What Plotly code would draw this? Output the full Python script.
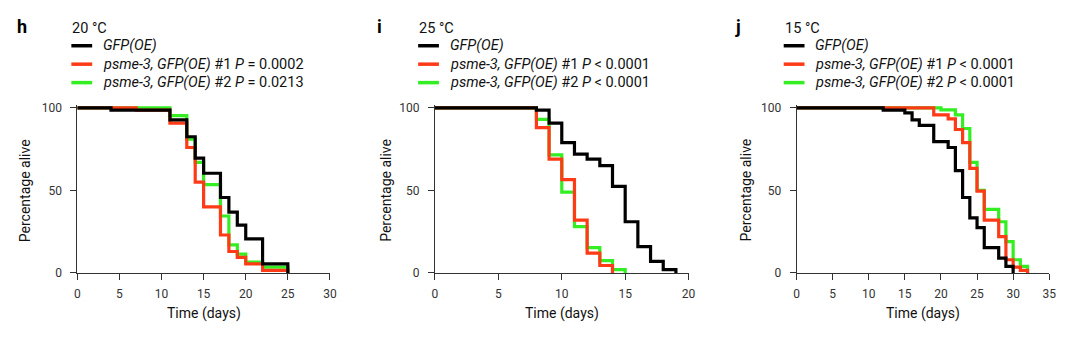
import plotly.graph_objects as go

# ---------------- data ----------------
# Panel h (20 °C)
h_black_days = [0, 4, 11, 13, 14, 15, 17, 18, 19, 20, 22, 25]
h_black_pct = [100, 98.6, 92.7, 82.5, 69.6, 60.4, 45.7, 36.9, 29, 20.6, 5.5, 0]
h_red_days = [0, 7, 11, 13, 14, 15, 17, 18, 19, 20, 22, 25]
h_red_pct = [100, 98.6, 90.8, 76, 55, 40, 23, 13, 9.4, 5.5, 1.5, 0]
h_green_days = [0, 11, 13, 14, 15, 17, 18, 19, 20, 22, 25]
h_green_pct = [100, 95.3, 81, 67, 53.5, 34.5, 17, 11.4, 6.5, 3.5, 0]

# Panel i (25 °C)
i_black_days = [0, 8, 9, 10, 11, 12, 13, 14, 15, 16, 17, 18, 19]
i_black_pct = [100, 98.6, 90.8, 79, 72, 69, 65, 52.5, 31, 16, 7, 2, 0]
i_red_days = [0, 8, 9, 10, 11, 12, 13, 14]
i_red_pct = [100, 88, 69, 56.5, 32, 12, 4.5, 0]
i_green_days = [0, 8, 9, 10, 11, 12, 13, 14, 15]
i_green_pct = [100, 93, 71.5, 49, 28, 15.3, 7.5, 2, 0]

# Panel j (15 °C)
j_black_days = [0, 12, 15, 16, 17, 19, 21, 22, 23, 24, 25, 26, 28, 29, 30]
j_black_pct = [100, 98.6, 97, 92.7, 89.4, 79.6, 76, 62, 45.7, 33.3, 27.5, 15.3, 9, 4, 0]
j_red_days = [0, 19, 21, 22, 23, 24, 25, 26, 28, 29, 30, 31, 32]
j_red_pct = [100, 95.7, 93.3, 86.9, 79, 63.3, 49.6, 32, 22, 8, 3.5, 1.5, 0]
j_green_days = [0, 20, 22, 23, 24, 25, 26, 28, 29, 30, 31, 32]
j_green_pct = [100, 98.8, 95.7, 87.5, 67, 50, 38.5, 31, 19, 8, 4, 0]

panel_letters = ["h", "i", "j"]
panel_temps = ["20 °C", "25 °C", "15 °C"]
series_names = ["GFP(OE)", "psme-3, GFP(OE) #1", "psme-3, GFP(OE) #2"]
p_values = [["P = 0.0002", "P = 0.0213"],
            ["P < 0.0001", "P < 0.0001"],
            ["P < 0.0001", "P < 0.0001"]]
x_ticks = [[0, 5, 10, 15, 20, 25, 30], [0, 5, 10, 15, 20], [0, 5, 10, 15, 20, 25, 30, 35]]
x_max = [30, 20, 35]
y_ticks = [0, 50, 100]

# ---------------- styling ----------------
W, H = 1080, 345
BLACK = "#000000"
RED = "#ff3a16"
GREEN = "#33ee22"
FONT = "Roboto"
AX = "#333333"
LW = 3.2

panels = [
    dict(black=(h_black_days, h_black_pct), red=(h_red_days, h_red_pct), green=(h_green_days, h_green_pct)),
    dict(black=(i_black_days, i_black_pct), red=(i_red_days, i_red_pct), green=(i_green_days, i_green_pct)),
    dict(black=(j_black_days, j_black_pct), red=(j_red_days, j_red_pct), green=(j_green_days, j_green_pct)),
]

# pixel geometry of each plot (left, right) and layout elements
x_px = [(75, 330), (436, 692), (801, 1056)]
letter_px = [12, 375, 737]
legend_px = [68, 418, 787]
ytitle_px = [23, 387, 750]
y0_px, ppu = 278, 1.7  # y pixel of 0, pixels per percent
y_top_val = 102


def px(x):
    return x / W


def py(y):
    return 1 - y / H


fig = go.Figure()
annotations = []
shapes = []

for k, pdat in enumerate(panels):
    xa = "x" if k == 0 else f"x{k+1}"
    ya = "y" if k == 0 else f"y{k+1}"
    for key, col in (("green", GREEN), ("red", RED), ("black", BLACK)):
        d, v = pdat[key]
        fig.add_trace(go.Scatter(x=d, y=v, mode="lines", line=dict(color=col, width=LW, shape="hv"),
                                 xaxis=xa, yaxis=ya, showlegend=False, hoverinfo="skip"))
    l, r = x_px[k]
    axkw = dict(showgrid=False, zeroline=False, showline=True, linecolor=AX, linewidth=1,
                ticks="outside", ticklen=6, tickwidth=1, tickcolor=AX,
                tickfont=dict(family=FONT, size=12, color="#333333"))
    fig.update_layout(**{
        ("xaxis" if k == 0 else f"xaxis{k+1}"): dict(
            domain=[px(l), px(r)], range=[0, x_max[k]], tickvals=x_ticks[k],
            anchor=ya, ticklabelstandoff=4, **axkw),
        ("yaxis" if k == 0 else f"yaxis{k+1}"): dict(
            domain=[py(y0_px), py(y0_px - y_top_val * ppu)], range=[0, y_top_val],
            tickvals=y_ticks, anchor=xa, ticklabelstandoff=6, **axkw),
    })
    # panel letter
    annotations.append(dict(x=px(letter_px[k]), y=py(24), xref="paper", yref="paper", xanchor="left",
                            yanchor="middle", showarrow=False, text=f"<b>{panel_letters[k]}</b>",
                            font=dict(family=FONT, size=18, color="#000")))
    lx = legend_px[k]
    annotations.append(dict(x=px(lx), y=py(26), xref="paper", yref="paper", xanchor="left",
                            yanchor="middle", showarrow=False, text=panel_temps[k],
                            font=dict(family=FONT, size=14.5, color="#111")))
    rows = [(44, BLACK, f"<i>{series_names[0]}</i>"),
            (63, RED, f"<i>psme-3, GFP(OE)</i> #1 <i>P</i> {p_values[k][0][2:]}"),
            (82, GREEN, f"<i>psme-3, GFP(OE)</i> #2 <i>P</i> {p_values[k][1][2:]}")]
    for yy, col, txt in rows:
        shapes.append(dict(type="line", xref="paper", yref="paper", x0=px(lx + 1), x1=px(lx + 22),
                           y0=py(yy), y1=py(yy), line=dict(color=col, width=3.5)))
        annotations.append(dict(x=px(lx + 31), y=py(yy), xref="paper", yref="paper", xanchor="left",
                                yanchor="middle", showarrow=False, text=txt,
                                font=dict(family=FONT, size=14.5, color="#111")))
    # axis titles
    annotations.append(dict(x=px(ytitle_px[k]), y=py(193), xref="paper", yref="paper", xanchor="center",
                            yanchor="middle", showarrow=False, text="Percentage alive", textangle=-90,
                            font=dict(family=FONT, size=14, color="#111")))
    annotations.append(dict(x=px((l + r) / 2), y=py(320), xref="paper", yref="paper", xanchor="center",
                            yanchor="middle", showarrow=False, text="Time (days)",
                            font=dict(family=FONT, size=14, color="#111")))

fig.update_layout(width=W, height=H, margin=dict(l=0, r=0, t=0, b=0),
                  paper_bgcolor="white", plot_bgcolor="white",
                  annotations=annotations, shapes=shapes, showlegend=False)

fig.write_html("out.html")
